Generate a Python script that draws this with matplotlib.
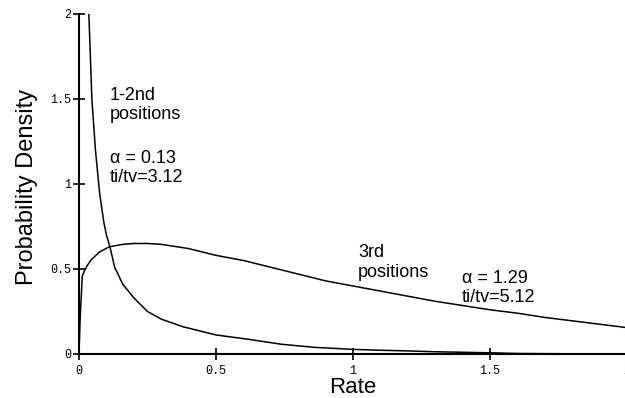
import matplotlib
matplotlib.use("Agg")
import matplotlib.pyplot as plt

# values
# 1-2nd positions curve (alpha = 0.13)
rate_12 = [0.030, 0.036, 0.047, 0.060, 0.075, 0.090, 0.100, 0.113, 0.130, 0.160,
           0.200, 0.250, 0.300, 0.380, 0.500, 0.620, 0.740, 0.860, 1.000, 1.100,
           1.200, 1.300, 1.400, 1.500, 1.600, 1.800, 2.000]
dens_12 = [2.40, 2.00, 1.50, 1.20, 0.95, 0.78, 0.70, 0.63, 0.51, 0.41,
           0.33, 0.25, 0.205, 0.16, 0.112, 0.086, 0.057, 0.039, 0.027, 0.022,
           0.018, 0.013, 0.010, 0.007, 0.003, 0.001, 0.000]

# 3rd positions curve (alpha = 1.29)
rate_3 = [0.000, 0.004, 0.012, 0.020, 0.030, 0.045, 0.075, 0.110, 0.160, 0.200,
          0.250, 0.300, 0.400, 0.500, 0.600, 0.700, 0.800, 0.900, 1.000, 1.100,
          1.200, 1.300, 1.400, 1.500, 1.600, 1.700, 1.800, 1.900, 2.000]
dens_3 = [0.00, 0.20, 0.46, 0.49, 0.52, 0.555, 0.60, 0.63, 0.645, 0.65,
          0.65, 0.645, 0.62, 0.58, 0.55, 0.51, 0.47, 0.43, 0.40, 0.37,
          0.34, 0.31, 0.285, 0.26, 0.24, 0.215, 0.195, 0.175, 0.155]

ticks = [0, 0.5, 1, 1.5, 2]
tick_labels = ["0", "0.5", "1", "1.5", "2"]

if __name__ == "__main__":
    fig = plt.figure(figsize=(6.25, 3.98), dpi=100)
    ax = fig.add_axes([0.1264, 0.1106, 0.8768, 0.8543])

    # the two density curves
    ax.plot(rate_12, dens_12, color="black", linewidth=1.1)
    ax.plot(rate_3, dens_3, color="black", linewidth=1.1)

    ax.set_xlim(0, 2)
    ax.set_ylim(0, 2)

    # only left and bottom axis lines
    ax.spines["top"].set_visible(False)
    ax.spines["right"].set_visible(False)
    ax.spines["left"].set_linewidth(1.5)
    ax.spines["bottom"].set_linewidth(1.5)

    mono = "Liberation Mono"
    ax.set_xticks(ticks)
    ax.set_xticklabels(tick_labels, family=mono, fontsize=8.5)
    ax.set_yticks(ticks)
    ax.set_yticklabels(tick_labels, family=mono, fontsize=8.5)
    ax.tick_params(axis="both", direction="inout", length=8, width=1.2, color="black")
    ax.tick_params(axis="x", pad=4)
    ax.tick_params(axis="y", pad=1.5)

    sans = "Liberation Sans"
    ax.set_xlabel("Rate", family=sans, fontsize=16)
    ax.set_ylabel("Probability Density", family=sans, fontsize=17)
    ax.xaxis.set_label_coords(0.5, -0.069)
    ax.yaxis.set_label_coords(-0.075, 0.49)

    # annotations
    ax.text(0.113, 1.494, "1-2nd", family=sans, fontsize=13)
    ax.text(0.113, 1.382, "positions", family=sans, fontsize=13)
    ax.text(0.113, 1.124, "\u03b1 = 0.13", family=sans, fontsize=13)
    ax.text(0.113, 1.012, "ti/tv=3.12", family=sans, fontsize=13)

    ax.text(1.018, 0.572, "3rd", family=sans, fontsize=13)
    ax.text(1.018, 0.455, "positions", family=sans, fontsize=13)
    ax.text(1.397, 0.416, "\u03b1 = 1.29", family=sans, fontsize=13)
    ax.text(1.397, 0.308, "ti/tv=5.12", family=sans, fontsize=13)

    plt.savefig("out.png", dpi=100)
